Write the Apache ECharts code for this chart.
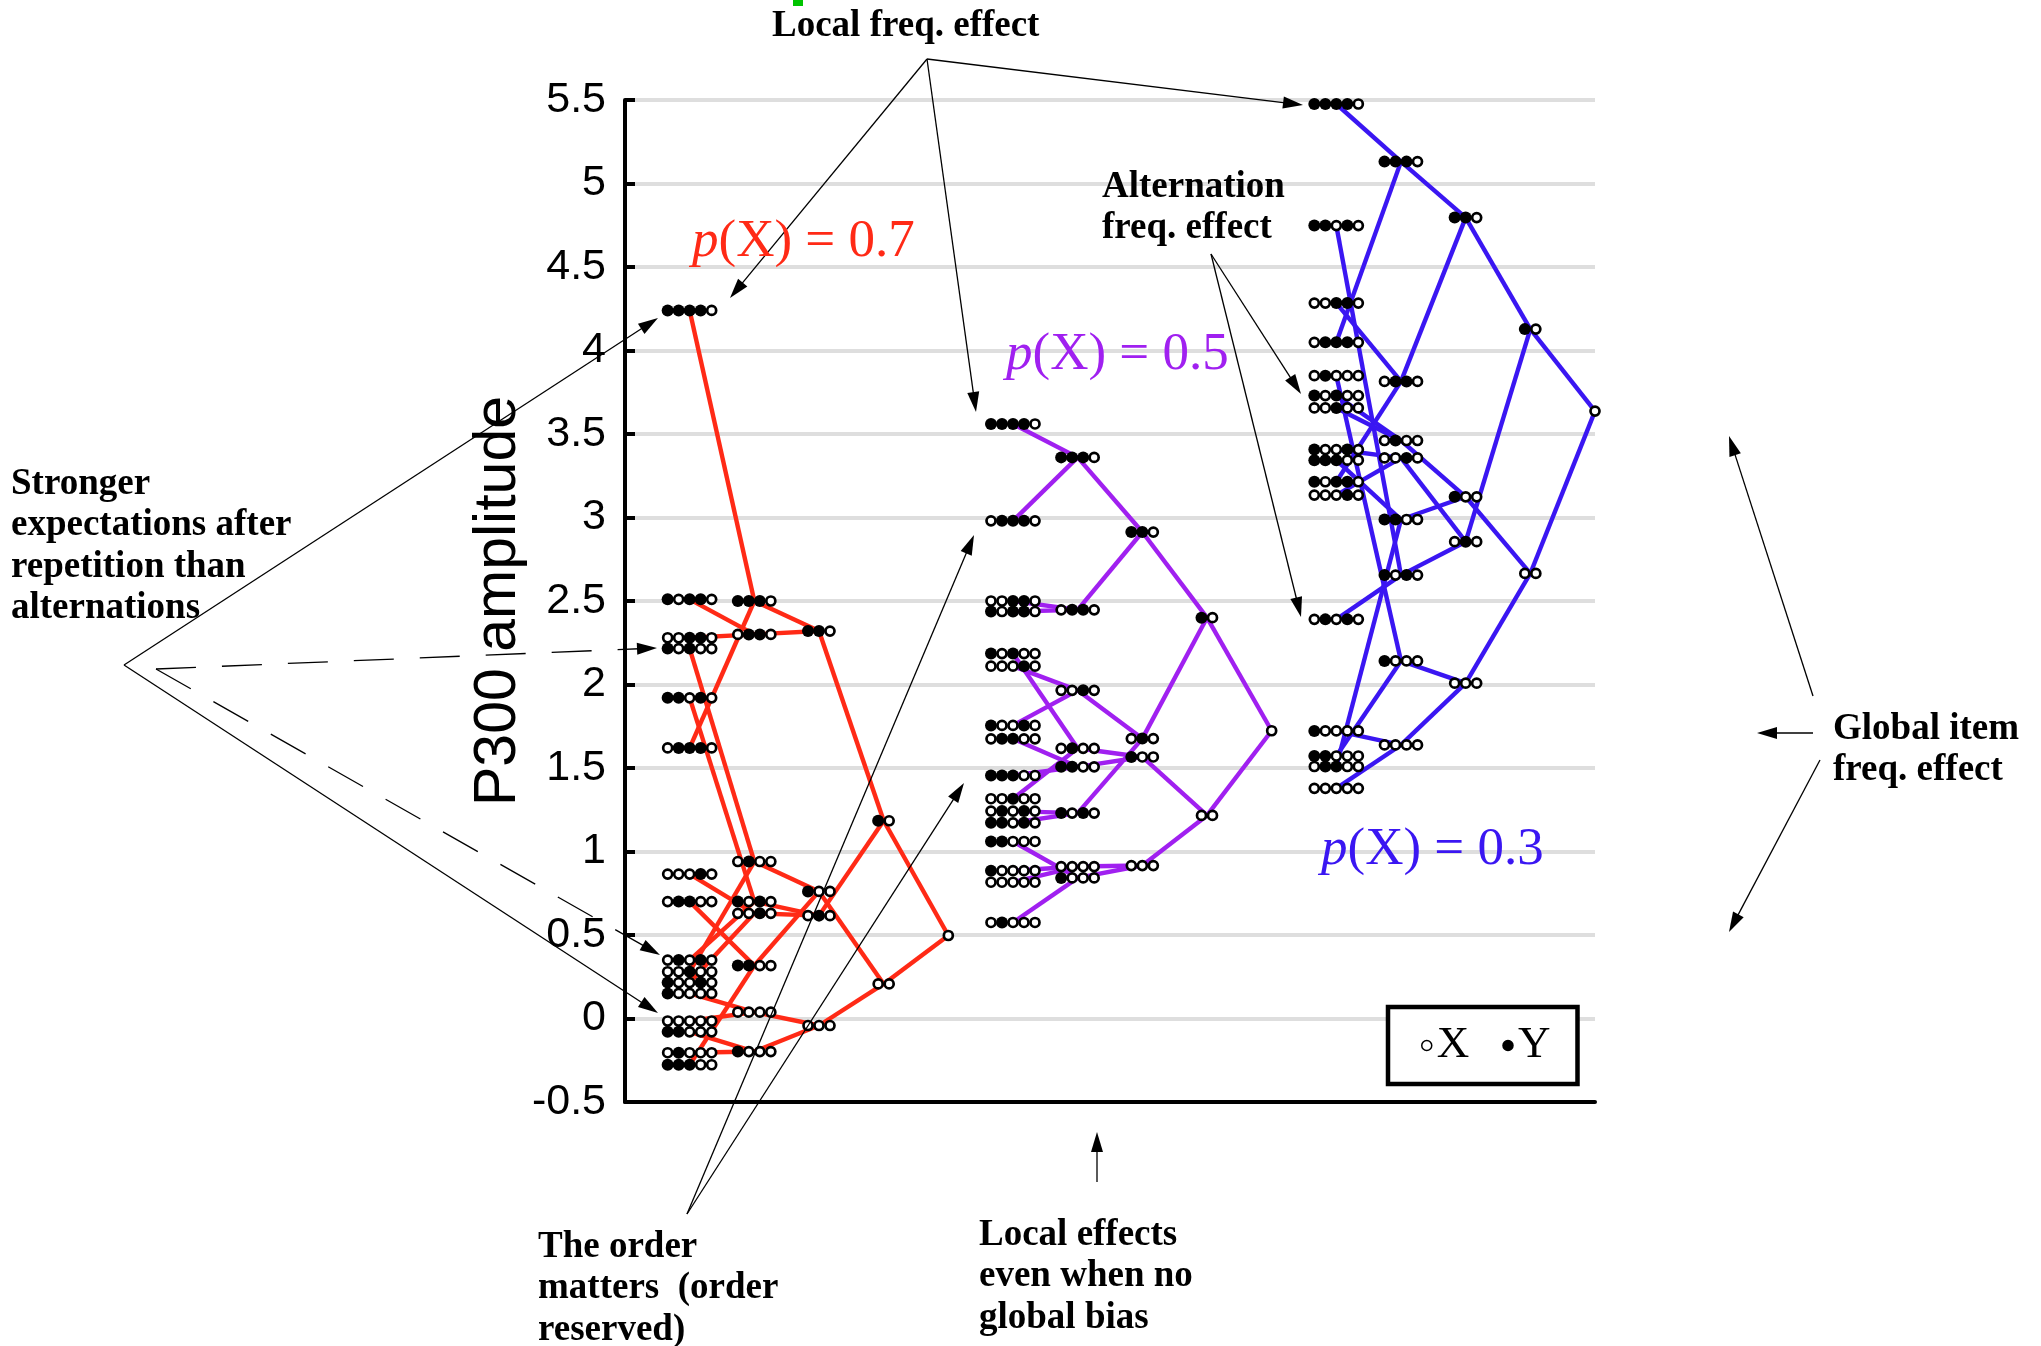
<!DOCTYPE html>
<html>
<head>
<meta charset="utf-8">
<script src="https://cdn.jsdelivr.net/npm/echarts@6/dist/echarts.min.js"></script>
<style>
html, body { margin: 0; padding: 0; background: #fff; }
#chart { width: 2041px; height: 1346px; }
</style>
</head>
<body>
<div id="chart"></div>
<script>
// Item sequences per history length (oldest item first, the last item is the current X)
const seqLen5 = ['YYYYX','YYYXX','YYXYX','YYXXX','YXYYX','YXYXX','YXXYX','YXXXX',
                 'XYYYX','XYYXX','XYXYX','XYXXX','XXYYX','XXYXX','XXXYX','XXXXX'];
const seqLen4 = ['YYYX','YYXX','YXYX','YXXX','XYYX','XYXX','XXYX','XXXX'];
const seqLen3 = ['YYX','YXX','XYX','XXX'];
const seqLen2 = ['YX','XX'];
const seqLen1 = ['X'];

// P300 amplitude, p(X) = 0.7
const p07Len5 = [4.24, -0.277, 1.92, -0.08, 2.51, 2.215, 0.215, 0.15, 1.62, 0.70, 0.35, -0.205, 2.28, 0.28, 0.865, -0.015];
const p07Len4 = [2.50, 0.317, 0.70, -0.198, 2.30, 0.94, 0.63, 0.038];
const p07Len3 = [2.32, 0.761, 0.616, -0.042];
const p07Len2 = [1.184, 0.207];
const p07Len1 = [0.497];

// P300 amplitude, p(X) = 0.5
const p05Len5 = [3.56, 1.455, 1.172, 1.06, 2.437, 2.185, 1.755, 0.885, 2.98, 1.675, 1.242, 0.575, 2.50, 1.316, 2.11, 0.816];
const p05Len4 = [3.36, 1.507, 1.23, 0.842, 2.447, 1.618, 1.965, 0.91];
const p05Len3 = [2.913, 1.566, 1.676, 0.916];
const p05Len2 = [2.40, 1.216];
const p05Len1 = [1.723];

// P300 amplitude, p(X) = 0.3
const p03Len5 = [5.476, 3.343, 4.748, 1.572, 3.214, 3.73, 3.407, 1.722, 4.049, 1.509, 2.39, 3.849, 4.284, 3.656, 3.134, 1.378];
const p03Len4 = [5.131, 2.988, 2.655, 2.141, 3.815, 3.461, 3.357, 1.638];
const p03Len3 = [4.796, 3.124, 2.855, 2.008];
const p03Len2 = [4.128, 2.665];
const p03Len1 = [3.637];

const groupProbs = ['0.7', '0.5', '0.3'];
const yTicks = { min: -0.5, max: 5.5, step: 0.5 };

// ---- build marks from the arrays ----
const levels = [seqLen5, seqLen4, seqLen3, seqLen2, seqLen1];
const groups = [
  [p07Len5, p07Len4, p07Len3, p07Len2, p07Len1],
  [p05Len5, p05Len4, p05Len3, p05Len2, p05Len1],
  [p03Len5, p03Len4, p03Len3, p03Len2, p03Len1]
];
const groupColors = ['#ff2a16', '#a020f0', '#3a16f2'];

const GRID = { left: 625, right: 446, top: 100, bottom: 244 };
const X_MAX = 15;
const pxPerX = (2041 - GRID.left - GRID.right) / X_MAX;
const CIRCLE_STEP = 11 / pxPerX;   // spacing of the item circles, in x-axis units

const openPts = [];
const filledPts = [];
const edgeData = [[], [], []];

groups.forEach((vals, g) => {
  levels.forEach((seqs, l) => {
    const x = 1 + g * 5 + l;
    seqs.forEach((s, k) => {
      const y = vals[l][k];
      const n = s.length;
      for (let i = 0; i < n; i++) {
        const px = x + (i - (n - 1) / 2) * CIRCLE_STEP;
        (s[i] === 'X' ? openPts : filledPts).push([px, y]);
      }
      if (l < levels.length - 1) {
        const parent = s.slice(1);
        const pk = levels[l + 1].indexOf(parent);
        edgeData[g].push({ coords: [[x, y], [x + 1, vals[l + 1][pk]]] });
      }
    });
  });
});

// ---- annotations ----
const serif = 'Liberation Serif, Times New Roman, serif';
const noteFont = { fontFamily: serif, fontWeight: 'bold', fontSize: 37, fill: '#000' };

function noteLines(lines, left, firstBaseline) {
  return lines.map((t, i) => ({
    type: 'text', x: left, y: firstBaseline + i * 41.3 - 8.5, silent: true, z: 100,
    style: Object.assign({ text: t, align: 'left', verticalAlign: 'middle' }, noteFont)
  }));
}

function arrow(x1, y1, x2, y2, dashed) {
  const dx = x2 - x1, dy = y2 - y1;
  const len = Math.sqrt(dx * dx + dy * dy);
  const ux = dx / len, uy = dy / len;
  const L = 20, W = 6;
  const bx = x2 - ux * L, by = y2 - uy * L;
  return [
    { type: 'line', silent: true, z: 100,
      shape: { x1: x1, y1: y1, x2: bx + ux * 2, y2: by + uy * 2 },
      style: { stroke: '#000', lineWidth: 1.3, lineDash: dashed ? [40, 26] : null } },
    { type: 'polygon', silent: true, z: 100,
      shape: { points: [[x2, y2], [bx - uy * W, by + ux * W], [bx + uy * W, by - ux * W]] },
      style: { fill: '#000' } }
  ];
}

const graphics = [].concat(
  [{ type: 'rect', silent: true, z: 100, shape: { x: 793, y: 0, width: 10, height: 6 }, style: { fill: '#00c400' } }],
  noteLines(['Local freq. effect'], 772, 35),
  noteLines(['Stronger', 'expectations after', 'repetition than', 'alternations'], 11, 493),
  noteLines(['Alternation', 'freq. effect'], 1102, 196),
  noteLines(['Global item', 'freq. effect'], 1833, 738),
  noteLines(['The order', 'matters  (order', 'reserved)'], 538, 1256),
  noteLines(['Local effects', 'even when no', 'global bias'], 979, 1244),
  arrow(927, 59, 730, 298),
  arrow(927, 59, 976, 412),
  arrow(927, 59, 1303, 105),
  arrow(124, 665, 658, 318),
  arrow(156, 669, 657, 648, true),
  arrow(156, 669, 660, 955, true),
  arrow(124, 665, 658, 1013),
  arrow(1211, 254, 1301, 394),
  arrow(1211, 254, 1301, 617),
  arrow(1813, 733, 1757, 733),
  arrow(1813, 696, 1729, 436),
  arrow(1820, 760, 1729, 932),
  arrow(1097, 1182, 1097, 1132),
  arrow(687, 1214, 974, 535),
  arrow(687, 1214, 964, 783)
);

const labelPos = [[692, 260], [1006, 373], [1321, 868]];
groupProbs.forEach((p, g) => {
  const c = groupColors[g];
  graphics.push({
    type: 'text', x: labelPos[g][0], y: labelPos[g][1] - 18, silent: true, z: 100,
    style: {
      text: '{i|p}(X) = ' + p,
      rich: { i: { fontStyle: 'italic', fontFamily: serif, fontSize: 53, fill: c } },
      fontFamily: serif, fontSize: 53, fill: c, align: 'left', verticalAlign: 'middle'
    }
  });
});

// ---- chart ----
const chart = echarts.init(document.getElementById('chart'));
const sans = 'Liberation Sans, Arial, Helvetica, sans-serif';

const lineSeries = edgeData.map((d, g) => ({
  type: 'lines', coordinateSystem: 'cartesian2d', polyline: false, silent: true, z: 2,
  lineStyle: { color: groupColors[g], width: 4.4, opacity: 1, curveness: 0 },
  data: d
}));

chart.setOption({
  animation: false,
  backgroundColor: '#fff',
  grid: GRID,
  xAxis: {
    type: 'value', min: 0, max: X_MAX, z: 4,
    axisLine: { show: true, onZero: false, lineStyle: { color: '#000', width: 4 } },
    axisTick: { show: false }, axisLabel: { show: false }, splitLine: { show: false }
  },
  yAxis: {
    type: 'value', min: yTicks.min, max: yTicks.max, interval: yTicks.step,
    name: 'P300 amplitude', nameLocation: 'middle', nameGap: 97,
    nameTextStyle: { fontFamily: sans, fontSize: 59, color: '#000' },
    axisLine: { show: true, onZero: false, lineStyle: { color: '#000', width: 4 } },
    axisTick: { show: true, inside: true, length: 10, lineStyle: { color: '#000', width: 4 } },
    axisLabel: { fontFamily: sans, fontSize: 43, color: '#000', margin: 19 },
    splitLine: { show: true, lineStyle: { color: '#dedede', width: 4 } }
  },
  legend: {
    data: ['X', 'Y'], left: 1388, top: 1007, orient: 'horizontal', selectedMode: false,
    icon: 'circle', itemWidth: 10, itemHeight: 10, itemGap: 33, itemTextGap: 7,
    padding: [16, 27, 16, 33], borderColor: '#000', borderWidth: 4.5, backgroundColor: '#fff',
    itemStyle: { borderWidth: 1.5 },
    textStyle: { fontFamily: serif, fontSize: 45, color: '#000' }
  },
  series: lineSeries.concat([
    {
      name: 'Y', type: 'scatter', symbol: 'circle', symbolSize: 12, z: 3, silent: true,
      itemStyle: { color: '#000', borderColor: '#000', borderWidth: 0, opacity: 1 },
      data: filledPts
    },
    {
      name: 'X', type: 'scatter', symbol: 'circle', symbolSize: 9, z: 4, silent: true,
      itemStyle: { color: '#fff', borderColor: '#000', borderWidth: 2.7, opacity: 1 },
      data: openPts
    }
  ]),
  graphic: { elements: graphics }
});
</script>
</body>
</html>
